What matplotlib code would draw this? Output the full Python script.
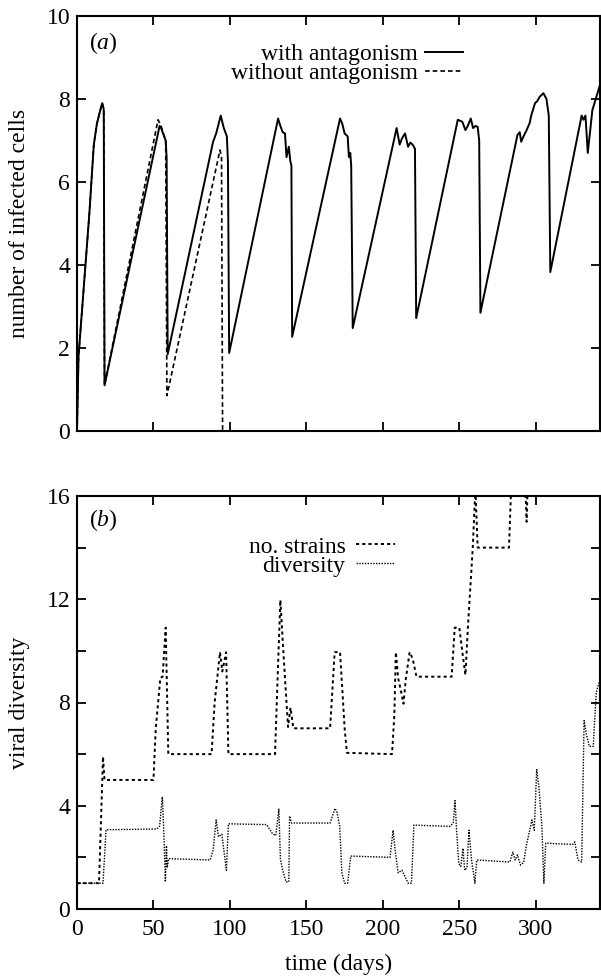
import numpy as np
import matplotlib
matplotlib.use('Agg')
import matplotlib.pyplot as plt

plt.rcParams['font.family'] = ['Liberation Serif', 'DejaVu Serif']
plt.rcParams['mathtext.fontset'] = 'custom'
plt.rcParams['mathtext.it'] = 'Liberation Serif:italic'
plt.rcParams['mathtext.rm'] = 'Liberation Serif'

# (a) number of infected cells, with antagonism
with_t = [0, 1, 8, 11, 13, 15, 16.5, 17.5, 18,
          54, 55, 56.5, 58, 58.6, 59.3,
          89, 91, 94, 96, 98, 98.7, 99.5,
          131.5, 133, 134.5, 136, 137, 138.5, 139.5, 140.2, 140.7,
          172, 173.5, 175, 177, 177.8, 178.7, 179.3, 180.3,
          209, 211, 212.5, 214.5, 216.5, 218, 219.5, 221, 221.8,
          249, 252, 254, 255.5, 257.5, 259, 260.5, 262, 263, 263.8,
          288, 289.5, 290.5, 292, 294, 296, 297, 299.5, 301, 302.5, 305, 307, 308.5, 309.5,
          330, 331.2, 332.5, 334, 337, 342]
with_v = [0, 1.8, 5.2, 6.9, 7.4, 7.7, 7.9, 7.75, 1.1,
          7.35, 7.3, 7.15, 7.0, 6.6, 1.85,
          6.97, 7.17, 7.6, 7.3, 7.1, 6.5, 1.88,
          7.53, 7.35, 7.2, 7.17, 6.6, 6.85, 6.5, 6.4, 2.27,
          7.53, 7.4, 7.17, 7.1, 6.6, 6.7, 6.4, 2.48,
          7.3, 6.9, 7.05, 7.17, 6.85, 6.95, 6.9, 6.8, 2.72,
          7.5, 7.45, 7.25, 7.35, 7.53, 7.3, 7.35, 7.33, 7.0, 2.85,
          7.13, 7.2, 6.97, 7.1, 7.25, 7.42, 7.6, 7.9, 7.95, 8.05, 8.14, 8.0, 7.6, 3.83,
          7.6, 7.5, 7.6, 6.7, 7.73, 8.34]

# (a) without antagonism
without_t = [0, 1, 8, 11, 13, 15, 16.5, 17.5, 18,
             53, 55, 57, 58, 58.8, 93.5, 94.5, 95.2]
without_v = [0, 1.8, 5.2, 6.9, 7.4, 7.7, 7.9, 7.75, 1.1,
             7.5, 7.35, 7.1, 7.0, 0.85, 6.77, 6.6, 0.0]

# (b) number of strains
strains_t = [0, 14.4, 17, 18, 50, 51.5, 54.5, 56, 57, 58, 59.7,
             88, 90, 93.5, 95, 96, 97.5, 99,
             129.5, 131.5, 133, 134.5, 137, 138, 139.6, 141.5,
             165.5, 168.5, 172, 174, 175, 176.5,
             206, 207.5, 208.5, 210, 212, 213.5, 215, 217.5, 219.5, 222,
             245, 247, 250, 252, 254, 255.6, 258.8, 260.5, 262,
             282.5, 284, 288, 293.5, 294, 295, 342]
strains_v = [1, 1, 5.9, 5.0, 5.0, 7.0, 8.95, 9.0, 10.0, 10.9, 6.0,
             6.0, 8.0, 9.95, 9.2, 9.5, 9.95, 6.0,
             6.0, 9.5, 11.97, 10.4, 8.0, 7.05, 7.8, 7.0,
             7.0, 9.95, 9.95, 8.0, 7.0, 6.05,
             6.0, 7.5, 9.95, 8.95, 8.4, 7.95, 8.9, 9.95, 9.7, 9.0,
             9.0, 10.9, 10.9, 9.95, 9.07, 10.9, 14.0, 16.3, 14.0,
             14.0, 16.5, 17.0, 15.9, 15.0, 17.0, 18.0]

# (b) diversity
div_t = [0, 17, 19, 52, 54, 55.8, 56.5, 57.2, 57.8, 58.5, 59, 59.9,
         87, 89, 91, 92.5, 94.7, 97.7, 99,
         124, 128, 130, 132, 133, 134.5, 136.7, 138.5, 139, 140.3,
         165.5, 168.7, 170, 171.8, 173.2, 175, 177, 179,
         204.7, 206.7, 208, 210, 212.5, 214.5, 216.5, 218.7, 220.3,
         243.8, 246, 247.2, 248.2, 249.7, 251, 252.4, 253.5, 255, 256.3, 258, 260.2, 261.4,
         283, 285, 286.5, 288, 290, 292, 294, 297.5, 299, 300.6, 302, 304, 305.3, 306.5,
         324, 325.5, 327.6, 330, 331.6, 333, 335, 337.6, 338.5, 339.6, 342]
div_v = [1, 1, 3.07, 3.1, 3.2, 4.35, 3.4, 2.2, 1.05, 2.45, 1.6, 1.95,
         1.9, 2.27, 3.45, 2.8, 2.9, 1.5, 3.3,
         3.27, 2.9, 2.85, 3.87, 1.95, 1.5, 1.05, 1.05, 3.6, 3.33,
         3.33, 3.9, 3.75, 3.2, 1.4, 1.0, 1.0, 2.05,
         2.0, 3.05, 2.3, 1.4, 1.5, 1.25, 1.0, 1.0, 3.25,
         3.2, 3.33, 4.2, 3.05, 1.75, 1.65, 2.35, 1.5, 1.6, 3.05, 1.9, 1.0, 1.9,
         1.82, 2.2, 1.9, 2.1, 1.7, 1.8, 2.5, 3.45, 3.05, 5.4, 4.75, 3.2, 1.0, 2.55,
         2.5, 2.6, 1.9, 1.82, 7.3, 6.8, 6.3, 6.3, 7.3, 8.4, 8.9]

W, H = 601, 977
fig = plt.figure(figsize=(W / 100, H / 100), dpi=100)
ax1 = fig.add_axes([77 / W, 1 - 431 / H, 523 / W, 415 / H])
ax2 = fig.add_axes([77 / W, 1 - 909 / H, 523 / W, 413 / H])

fs = 17

l1, = ax1.plot(with_t, with_v, color='black', lw=1.4, label='with antagonism')
l2, = ax1.plot(without_t, without_v, color='black', lw=1.2, ls=(0, (2.8, 1.8)),
               label='without antagonism')
ax1.set_xlim(0, 342)
ax1.set_ylim(0, 10)
ax1.set_xticks(np.arange(0, 301, 50))
ax1.set_xticklabels([])
ax1.set_yticks(np.arange(0, 11, 2))
ax1.set_ylabel('number of infected cells', fontsize=fs)
ax1.yaxis.set_label_coords(-0.09, 0.5)
ax1.text(0.023, 0.935, '($a$)', transform=ax1.transAxes, fontsize=fs,
         ha='left', va='center')
ax1.legend(handles=[l1, l2], loc='upper right', bbox_to_anchor=(0.738, 0.934),
           markerfirst=False, frameon=False, fontsize=fs, handlelength=1.6,
           handletextpad=0.3, labelspacing=-0.1, borderpad=0, borderaxespad=0)

l3, = ax2.plot(strains_t, strains_v, color='black', lw=1.4, ls=(0, (1.6, 1.6)),
               label='no. strains')
l4, = ax2.plot(div_t, div_v, color='black', lw=1.0, ls=(0, (1, 1)),
               label='diversity')
ax2.set_xlim(0, 342)
ax2.set_ylim(0, 16)
ax2.set_xticks(np.arange(0, 301, 50))
ax2.set_yticks(np.arange(0, 17, 2))
ax2.set_yticklabels([str(v) if v % 4 == 0 else '' for v in range(0, 17, 2)])
ax2.set_xlabel('time (days)', fontsize=fs)
ax2.xaxis.set_label_coords(0.5, -0.108)
ax2.set_ylabel('viral diversity', fontsize=fs)
ax2.yaxis.set_label_coords(-0.09, 0.5)
ax2.text(0.023, 0.942, '($b$)', transform=ax2.transAxes, fontsize=fs,
         ha='left', va='center')
ax2.legend(handles=[l3, l4], loc='upper right', bbox_to_anchor=(0.608, 0.903),
           markerfirst=False, frameon=False, fontsize=fs, handlelength=1.65,
           handletextpad=0.45, labelspacing=-0.1, borderpad=0, borderaxespad=0)

for ax in (ax1, ax2):
    for s in ax.spines.values():
        s.set_linewidth(1.5)
    ax.tick_params(direction='in', top=True, right=True, length=6.5, width=1.3,
                   labelsize=fs, pad=5)
    ax.tick_params(axis='x', pad=7)

fig.savefig('out.png', dpi=100, facecolor='white')
